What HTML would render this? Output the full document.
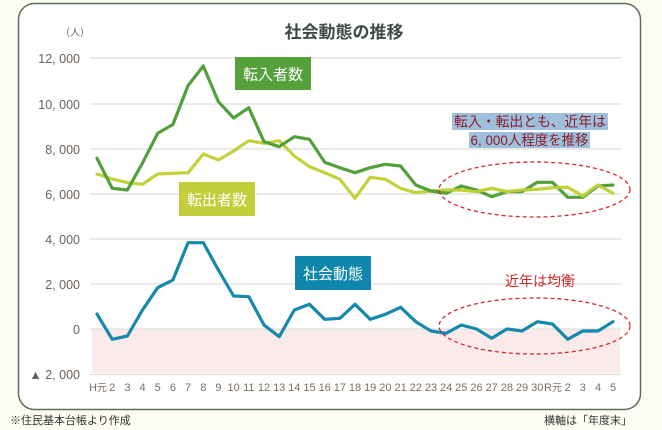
<!DOCTYPE html>
<html><head><meta charset="utf-8">
<style>
html,body{margin:0;padding:0;background:#fdfdf1;}
svg{display:block;}
text{font-family:"Liberation Sans","Noto Sans CJK JP",sans-serif;}
</style></head>
<body>
<svg width="662" height="430" viewBox="0 0 662 430" xmlns="http://www.w3.org/2000/svg">
<rect x="0" y="0" width="662" height="430" fill="#fdfdf1"/>
<rect x="18.5" y="3.5" width="622" height="406" rx="16" ry="16" fill="#ffffff" stroke="#5b6e60" stroke-width="1.5"/>

<!-- title -->
<text x="344" y="38" font-size="17" font-weight="bold" fill="#3d4a45" text-anchor="middle">社会動態の推移</text>
<text x="60" y="36" font-size="10" fill="#666">（人）</text>

<!-- pink negative area -->
<rect x="92" y="329" width="528" height="44" fill="#fbeaea"/>

<!-- gridlines -->
<g stroke="#dddddd" stroke-width="1.3">
<line x1="90" y1="58" x2="621" y2="58"/>
<line x1="90" y1="104" x2="621" y2="104"/>
<line x1="90" y1="149" x2="621" y2="149"/>
<line x1="90" y1="194" x2="621" y2="194"/>
<line x1="90" y1="239" x2="621" y2="239"/>
<line x1="90" y1="284" x2="621" y2="284"/>
<line x1="90" y1="329" x2="621" y2="329"/>
<line x1="90" y1="374.5" x2="621" y2="374.5"/>
</g>

<!-- y labels -->
<g font-size="12.5" fill="#6a625a" text-anchor="end">
<text x="80" y="63">12, 000</text>
<text x="80" y="109">10, 000</text>
<text x="80" y="154">8, 000</text>
<text x="80" y="199">6, 000</text>
<text x="80" y="244">4, 000</text>
<text x="80" y="289">2, 000</text>
<text x="80" y="334">0</text>
<text x="80" y="379">▲ 2, 000</text>
</g>

<!-- x labels -->
<g font-size="11" fill="#7a6e62" text-anchor="middle">
<text x="98" y="391">H<tspan font-size="10">元</tspan></text>
<text x="112.2" y="391">2</text><text x="127.4" y="391">3</text><text x="142.5" y="391">4</text>
<text x="157.7" y="391">5</text><text x="172.9" y="391">6</text><text x="188.1" y="391">7</text>
<text x="203.3" y="391">8</text><text x="218.4" y="391">9</text><text x="233.6" y="391">10</text>
<text x="248.8" y="391">11</text><text x="264" y="391">12</text><text x="279.2" y="391">13</text>
<text x="294.3" y="391">14</text><text x="309.5" y="391">15</text><text x="324.7" y="391">16</text>
<text x="339.9" y="391">17</text><text x="355" y="391">18</text><text x="370.2" y="391">19</text>
<text x="385.4" y="391">20</text><text x="400.6" y="391">21</text><text x="415.8" y="391">22</text>
<text x="431" y="391">23</text><text x="446.1" y="391">24</text><text x="461.3" y="391">25</text>
<text x="476.5" y="391">26</text><text x="491.7" y="391">27</text><text x="506.9" y="391">28</text>
<text x="522" y="391">29</text><text x="537.3" y="391">30</text>
<text x="553" y="391">R<tspan font-size="10">元</tspan></text>
<text x="567.7" y="391">2</text><text x="582.8" y="391">3</text><text x="598" y="391">4</text><text x="613" y="391">5</text>
</g>

<!-- series -->
<g fill="none" stroke-width="3.2" stroke-linejoin="round" stroke-linecap="round">
<polyline stroke="#c3d13b" points="97,174 112.2,179 127.4,182.7 142.5,184.3 157.7,174 172.9,173.3 188.1,172.7 203.3,154 218.4,160 233.6,151 248.8,140.7 264,143.3 279.2,140.7 294.3,156 309.5,166.7 324.7,172.7 339.9,179.3 355,198.3 370.2,177.3 385.4,179.3 400.6,188.3 415.8,192.7 431,191 446.1,190 461.3,190 476.5,191.7 491.7,188.3 506.9,191.7 522,190 537.3,189.3 552.5,187.7 567.7,187.3 582.8,196 598,185 613,193.3"/>
<polyline stroke="#52a03a" points="97,158.3 112.2,188.3 127.4,190 142.5,163 157.7,133.3 172.9,124.5 188.1,85.5 203.3,66 218.4,101.7 233.6,118 248.8,107.7 264,141.7 279.2,146.7 294.3,136.7 309.5,139.3 324.7,162.3 339.9,167.7 355,172.7 370.2,167.7 385.4,164.3 400.6,166 415.8,185 431,191 446.1,193.3 461.3,186 476.5,190 491.7,196.7 506.9,191.7 522,191.7 537.3,182.3 552.5,182.3 567.7,197.3 582.8,197.3 598,186 613,185"/>
<polyline stroke="#c3d13b" stroke-opacity="0.9" points="446.1,190 461.3,190 476.5,191.7 491.7,188.3 506.9,191.7 522,190 537.3,189.3 552.5,187.7 567.7,187.3 582.8,196 598,185 613,193.3"/>
<polyline stroke="#1489ad" points="97,314 112.2,339.3 127.4,336 142.5,310 157.7,287.7 172.9,280 188.1,242.7 203.3,242.7 218.4,270 233.6,296 248.8,296.7 264,325 279.2,336.7 294.3,310 309.5,304.3 324.7,319.3 339.9,318.3 355,304.3 370.2,319.3 385.4,314.3 400.6,307.3 415.8,321.7 431,331 446.1,333.3 461.3,325 476.5,329 491.7,338.3 506.9,329 522,331 537.3,321.7 552.5,324 567.7,339.3 582.8,331 598,331 613,321.7"/>
</g>

<!-- label boxes -->
<rect x="235" y="57" width="76" height="33" fill="#55a03a"/>
<text x="273" y="79.5" font-size="15" fill="#ffffff" text-anchor="middle">転入者数</text>
<rect x="179" y="182" width="76" height="34" fill="#c2cf3b"/>
<text x="217" y="205" font-size="15" fill="#ffffff" text-anchor="middle">転出者数</text>
<rect x="295" y="256" width="76" height="34" fill="#0f87ac"/>
<text x="333" y="279" font-size="15" fill="#ffffff" text-anchor="middle">社会動態</text>

<!-- annotation -->
<rect x="452" y="113" width="156" height="17" fill="#9ec0dc"/>
<rect x="469" y="132" width="121" height="16" fill="#9ec0dc"/>
<text x="530" y="126.5" font-size="14" fill="#8a1c2a" text-anchor="middle" textLength="152" lengthAdjust="spacingAndGlyphs">転入・転出とも、近年は</text>
<text x="529.5" y="145" font-size="14" fill="#8a1c2a" text-anchor="middle" textLength="118" lengthAdjust="spacingAndGlyphs">6, 000人程度を推移</text>

<ellipse cx="534.5" cy="189.5" rx="95.5" ry="27.5" fill="none" stroke="#d42a2a" stroke-width="1.3" stroke-dasharray="4,3"/>
<ellipse cx="534.5" cy="326" rx="95.5" ry="28" fill="none" stroke="#d42a2a" stroke-width="1.3" stroke-dasharray="4,3"/>
<text x="540" y="286" font-size="14" fill="#cc2626" text-anchor="middle">近年は均衡</text>

<!-- footnotes -->
<text x="10" y="424" font-size="11" fill="#333">※住民基本台帳より作成</text>
<text x="632" y="424" font-size="11" fill="#333" text-anchor="end">横軸は「年度末」</text>
</svg>
</body></html>
